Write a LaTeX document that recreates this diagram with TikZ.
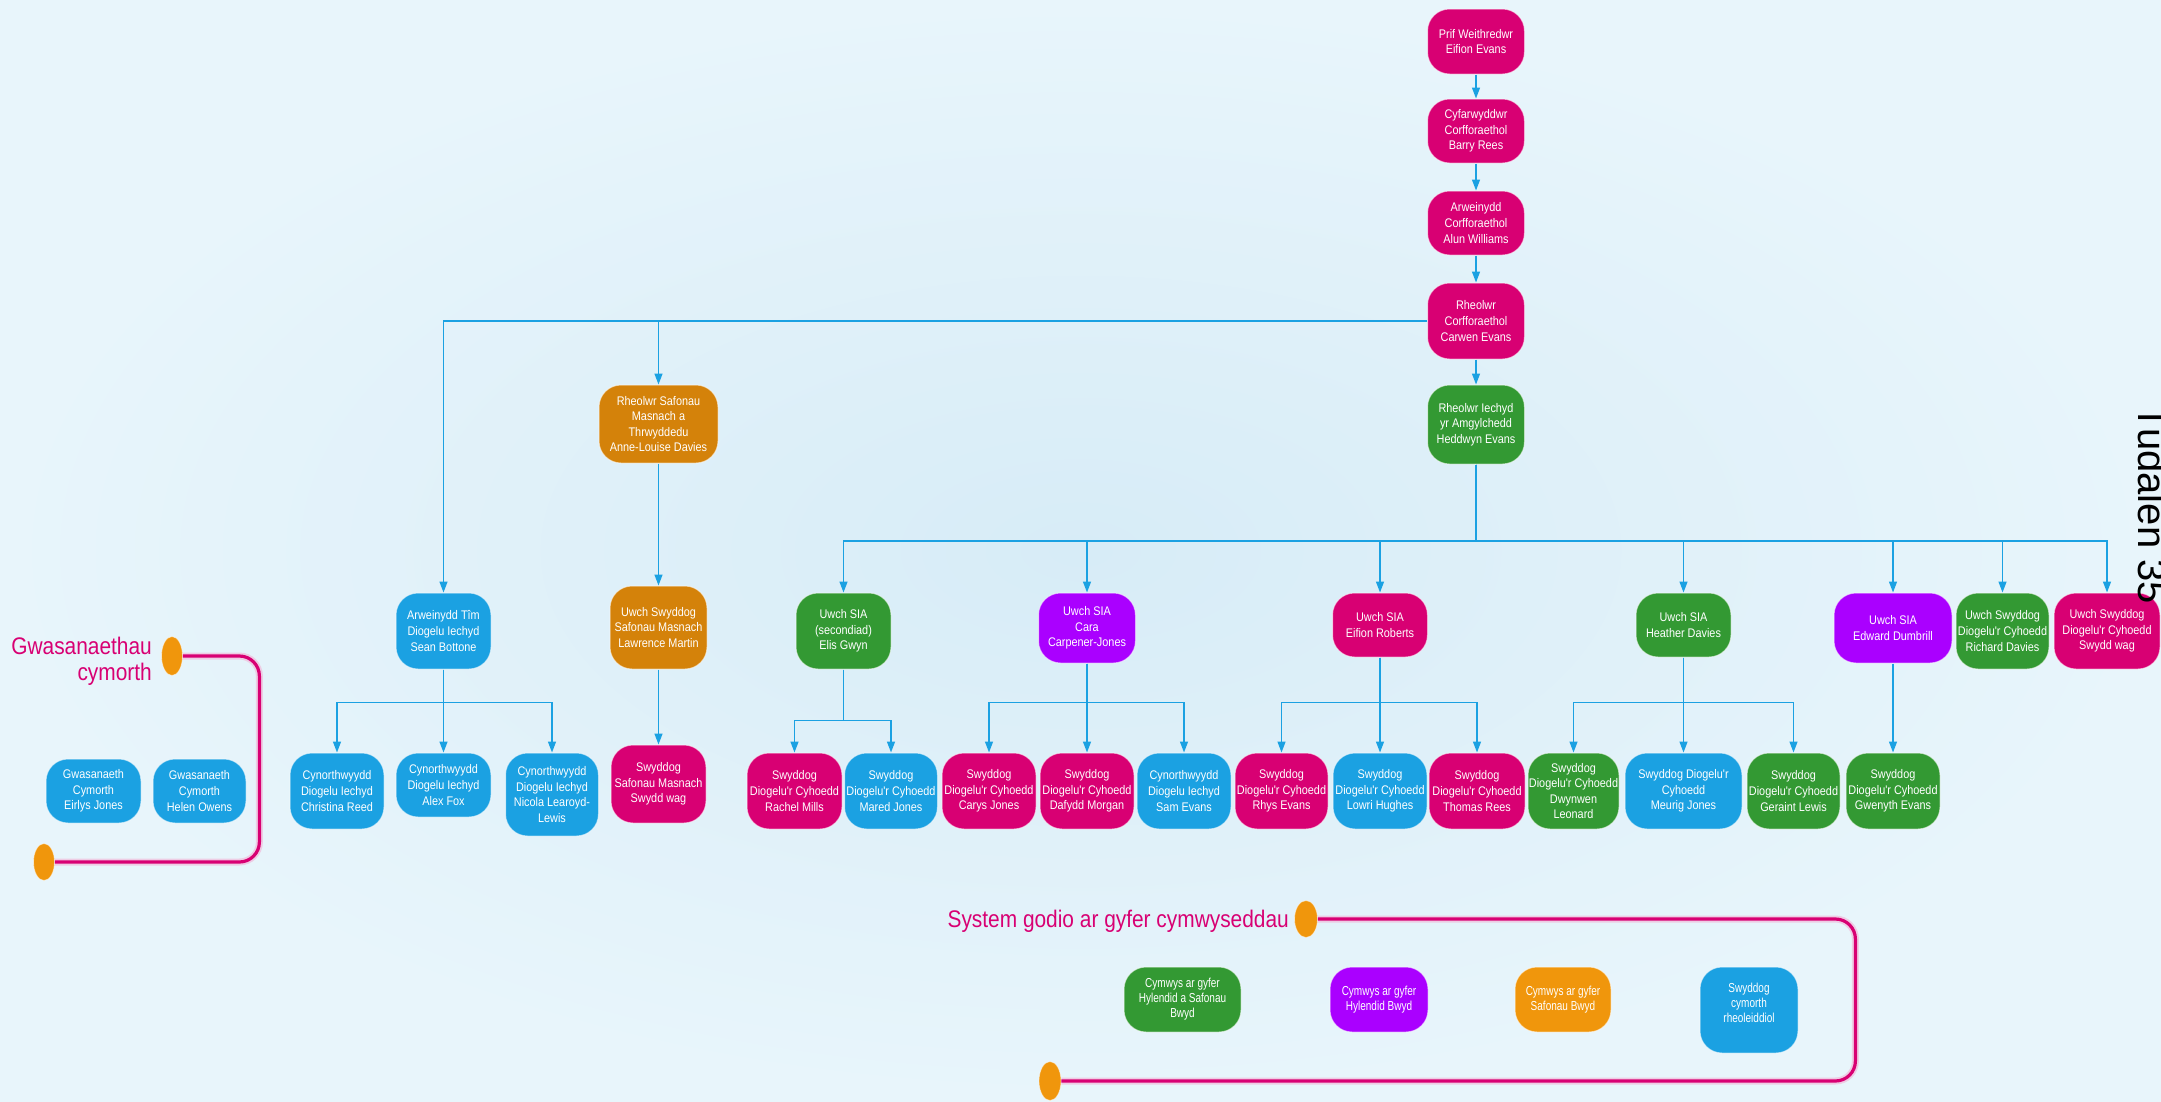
\documentclass[tikz,border=0pt]{standalone}
\usepackage{fontspec}
\setmainfont{Liberation Sans}
\newfontfamily\boxfont[FakeStretch=0.87]{Liberation Sans}
\newfontfamily\narrowfont[FakeStretch=0.77]{Liberation Sans}
\newfontfamily\headfont[FakeStretch=0.87]{Liberation Sans}
\usetikzlibrary{arrows.meta,shapes.geometric}
\definecolor{cmag}{HTML}{D80073}
\definecolor{cblue}{HTML}{1BA1E2}
\definecolor{cgreen}{HTML}{339933}
\definecolor{cpurple}{HTML}{AA00FF}
\definecolor{cdorange}{HTML}{D4820A}
\definecolor{corange}{HTML}{F0960C}
\definecolor{bgin}{HTML}{D7ECF7}
\definecolor{bgout}{HTML}{E8F5FB}
\tikzset{
  box/.style={rounded corners=22pt, fill=#1, draw=white, draw opacity=0.55, line width=1pt,
    text=white, align=center, inner sep=0pt, font=\boxfont\fontsize{12.5}{15.6}\selectfont},
  sz/.style 2 args={minimum width=#1pt, minimum height=#2pt},
  qbox/.style={box=#1, font=\narrowfont\fontsize{13}{15}\selectfont},
  conn/.style={cblue, line width=1.4pt},
  arr/.style={conn, -{Triangle[length=11pt,width=8pt]}},
  bracket/.style={cmag, line width=3.2pt, rounded corners=20pt},
  halo/.style={cmag!30, line width=7pt, rounded corners=20pt, opacity=0.6},
  knob/.style={ellipse, fill=corange, inner sep=0pt, draw=white, draw opacity=0.5, line width=0.8pt},
  heading/.style={text=cmag, font=\headfont\fontsize{24}{26}\selectfont, inner sep=0pt, align=right},
}
\begin{document}
\begin{tikzpicture}[x=1pt,y=-1pt]
\useasboundingbox (0,0) rectangle (2161,1101);
\shade[inner color=bgin, outer color=bgout] (0,0) rectangle (2161,1101);

% top chain
\node[box=cmag, sz={97}{65}] (ceo) at (1476,41.5) {Prif Weithredwr\\Eifion Evans};
\node[box=cmag, sz={97}{64}] (cyf) at (1476,131) {Cyfarwyddwr\\Corfforaethol\\Barry Rees};
\node[box=cmag, sz={97}{64}] (arw) at (1476,223) {Arweinydd\\Corfforaethol\\Alun Williams};
\node[box=cmag, sz={97}{76}] (rhe) at (1476,321) {Rheolwr\\Corfforaethol\\Carwen Evans};
\node[box=cgreen, sz={97}{79}] (iech) at (1476,424.5) {Rheolwr Iechyd\\yr Amgylchedd\\Heddwyn Evans};

% trading standards
\node[box=cdorange, sz={119}{78}] (anne) at (658.5,424) {Rheolwr Safonau\\Masnach a\\Thrwyddedu\\Anne-Louise Davies};
\node[box=cdorange, sz={97}{83}] (law) at (658.5,627.5) {Uwch Swyddog\\Safonau Masnach\\Lawrence Martin};
\node[box=cmag, sz={95}{78}] (ssm) at (658.5,784) {Swyddog\\Safonau Masnach\\Swydd wag};

% health protection team
\node[box=cblue, sz={95}{76}] (sean) at (443.5,631) {Arweinydd Tîm\\Diogelu Iechyd\\Sean Bottone};
\node[box=cblue, sz={94}{76}] (chr) at (337,791) {Cynorthwyydd\\Diogelu Iechyd\\Christina Reed};
\node[box=cblue, sz={95}{64}] (alex) at (443.5,785) {Cynorthwyydd\\Diogelu Iechyd\\Alex Fox};
\node[box=cblue, sz={93}{83}] (nic) at (552,794.5) {Cynorthwyydd\\Diogelu Iechyd\\Nicola Learoyd-\\Lewis};

% support services
\node[box=cblue, sz={95}{64}] (eir) at (93.5,791) {Gwasanaeth\\Cymorth\\Eirlys Jones};
\node[box=cblue, sz={93}{64}] (hel) at (199.5,791) {Gwasanaeth\\Cymorth\\Helen Owens};

% SIA level
\node[box=cgreen, sz={95}{76}] (elis) at (843.5,631) {Uwch SIA\\(secondiad)\\Elis Gwyn};
\node[box=cpurple, sz={97}{70}] (cara) at (1087,628) {Uwch SIA\\Cara\\Carpener-Jones};
\node[box=cmag, sz={95}{64}] (eif) at (1380,625) {Uwch SIA\\Eifion Roberts};
\node[box=cgreen, sz={95}{64}] (hea) at (1683.5,625) {Uwch SIA\\Heather Davies};
\node[box=cpurple, sz={118}{70}] (edw) at (1893,628) {Uwch SIA\\Edward Dumbrill};
\node[box=cgreen, sz={93}{76}] (ric) at (2002.5,631) {Uwch Swyddog\\Diogelu'r Cyhoedd\\Richard Davies};
\node[box=cmag, sz={106}{76}] (wag) at (2107,631) {Uwch Swyddog\\Diogelu'r Cyhoedd\\Swydd wag};

% officers
\node[box=cmag, sz={95}{76}] (rach) at (794.5,791) {Swyddog\\Diogelu'r Cyhoedd\\Rachel Mills};
\node[box=cblue, sz={93}{76}] (mar) at (891,791) {Swyddog\\Diogelu'r Cyhoedd\\Mared Jones};
\node[box=cmag, sz={94}{76}] (carys) at (989,791) {Swyddog\\Diogelu'r Cyhoedd\\Carys Jones};
\node[box=cmag, sz={94}{76}] (daf) at (1087,791) {Swyddog\\Diogelu'r Cyhoedd\\Dafydd Morgan};
\node[box=cblue, sz={94}{76}] (sam) at (1184,791) {Cynorthwyydd\\Diogelu Iechyd\\Sam Evans};
\node[box=cmag, sz={93}{76}] (rhys) at (1281.5,791) {Swyddog\\Diogelu'r Cyhoedd\\Rhys Evans};
\node[box=cblue, sz={94}{76}] (low) at (1380,791) {Swyddog\\Diogelu'r Cyhoedd\\Lowri Hughes};
\node[box=cmag, sz={96}{76}] (tho) at (1477,791) {Swyddog\\Diogelu'r Cyhoedd\\Thomas Rees};
\node[box=cgreen, sz={91}{76}] (dwy) at (1573.5,791) {Swyddog\\Diogelu'r Cyhoedd\\Dwynwen\\Leonard};
\node[box=cblue, sz={117}{76}] (meu) at (1683.5,791) {Swyddog Diogelu'r\\Cyhoedd\\Meurig Jones};
\node[box=cgreen, sz={93}{76}] (ger) at (1793.5,791) {Swyddog\\Diogelu'r Cyhoedd\\Geraint Lewis};
\node[box=cgreen, sz={94}{76}] (gwe) at (1893,791) {Swyddog\\Diogelu'r Cyhoedd\\Gwenyth Evans};

% competency section
\node[qbox=cgreen, sz={117}{65}] (q1) at (1182.5,999.5) {Cymwys ar gyfer\\Hylendid a Safonau\\Bwyd};
\node[qbox=cpurple, sz={98}{65}] (q2) at (1379,999.5) {Cymwys ar gyfer\\Hylendid Bwyd};
\node[qbox=corange, sz={96}{65}] (q3) at (1563,999.5) {Cymwys ar gyfer\\Safonau Bwyd};
\node[qbox=cblue, sz={98}{86}] (q4) at (1749,1010) {Swyddog\\cymorth\\rheoleiddiol\\\mbox{}};

% knobs and brackets
\node[knob, minimum width=21pt, minimum height=39pt] (k1) at (172,656) {};
\node[knob, minimum width=21pt, minimum height=37pt] (k2) at (44,862) {};
\node[knob, minimum width=23pt, minimum height=37pt] (k3) at (1306,919) {};
\node[knob, minimum width=22pt, minimum height=39pt] (k4) at (1050,1081) {};
\draw[halo] (k1.east) -- ++(76.5,0) |- (k2.east);
\draw[bracket] (k1.east) -- ++(76.5,0) |- (k2.east);
\draw[halo] (k3.east) -- ++(537.5,0) |- (k4.east);
\draw[bracket] (k3.east) -- ++(537.5,0) |- (k4.east);

\node[heading, anchor=east] (h1) at (152,661) {Gwasanaethau\\cymorth};
\node[heading, anchor=base east] (h2) at (1289,927) {System godio ar gyfer cymwyseddau};

\node[font=\fontsize{40}{40}\selectfont, rotate=-90, anchor=base west, inner sep=0pt] (pg) at (2138,405) {Tudalen 35};

% connectors
\draw[arr] (ceo) -- (cyf);
\draw[arr] (cyf) -- (arw);
\draw[arr] (arw) -- (rhe);
\draw[arr] (rhe) -- (iech);
\draw[arr] (rhe) -| (sean);
\coordinate (ja) at (658.5,321);
\draw[arr] (ja) -- (anne);
\draw[arr] (anne) -- (law);
\draw[arr] (law) -- (ssm);
\foreach \c in {elis,cara,eif,hea,edw,ric,wag}
  \draw[arr] (iech.south) -- ++(0,76.5) -| (\c.north);
\foreach \c in {chr,alex,nic}
  \draw[arr] (sean.south) -- ++(0,33) -| (\c.north);
\foreach \c in {rach,mar}
  \draw[arr] (elis.south) -- ++(0,51) -| (\c.north);
\foreach \c in {carys,daf,sam}
  \draw[arr] (cara.south) -- ++(0,39) -| (\c.north);
\foreach \c in {rhys,low,tho}
  \draw[arr] (eif.south) -- ++(0,45) -| (\c.north);
\foreach \c in {dwy,meu,ger}
  \draw[arr] (hea.south) -- ++(0,45) -| (\c.north);
\draw[arr] (edw) -- (gwe);
\end{tikzpicture}
\end{document}
